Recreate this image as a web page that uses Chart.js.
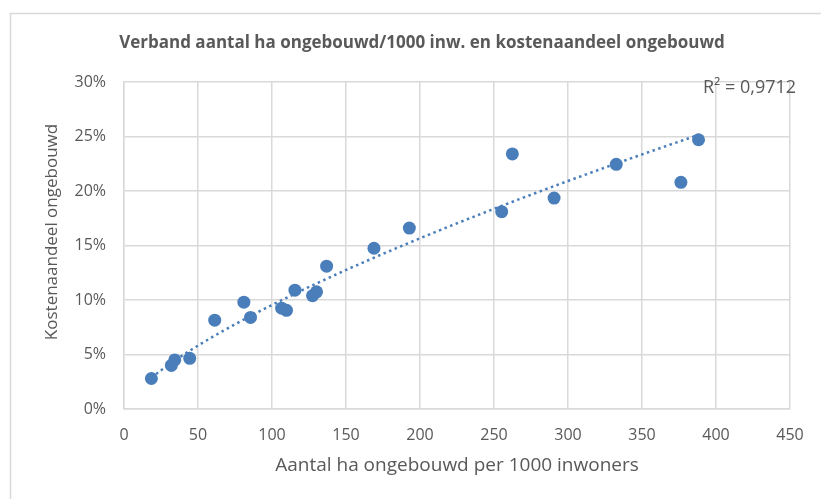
<!DOCTYPE html>
<html>
<head>
<meta charset="utf-8">
<script src="https://cdn.jsdelivr.net/npm/chart.js@4/dist/chart.umd.min.js"></script>
<style>
  body { margin: 0; background: #fff; }
  canvas { display: block; }
</style>
</head>
<body>
<canvas id="grafiek" width="821" height="499"></canvas>
<script>
var titel = 'Verband aantal ha ongebouwd/1000 inw. en kostenaandeel ongebouwd';
var asTitelX = 'Aantal ha ongebouwd per 1000 inwoners';
var asTitelY = 'Kostenaandeel ongebouwd';
var r2Tekst = 'R\u00b2 = 0,9712';

// ha ongebouwd per 1000 inwoners
var haOngebouwd = [18.5, 32, 34.3, 44.4, 61.3, 81, 85.5, 106.5, 109.8, 115.5, 127.4,
                   130.1, 136.9, 168.9, 192.8, 255.2, 262.4, 290.6, 332.6, 376.3, 388.2];
// kostenaandeel ongebouwd (%)
var kostenaandeel = [2.8, 4.0, 4.5, 4.65, 8.15, 9.8, 8.4, 9.25, 9.05, 10.9, 10.4,
                     10.75, 13.1, 14.75, 16.6, 18.1, 23.4, 19.35, 22.45, 20.8, 24.7];
var xTicks = [0, 50, 100, 150, 200, 250, 300, 350, 400, 450];
var yTicks = [0, 5, 10, 15, 20, 25, 30];

var blauw = '#4a7ebb';
var grijs = '#595959';
var lijn = '#d9d9d9';
var font = "'Open Sans', sans-serif";

// machtstrendlijn zoals Excel: ln y = ln a + b ln x
var n = haOngebouwd.length, su = 0, sv = 0, suu = 0, suv = 0;
for (var i = 0; i < n; i++) {
  var u = Math.log(haOngebouwd[i]), v = Math.log(kostenaandeel[i]);
  su += u; sv += v; suu += u * u; suv += u * v;
}
var b = (n * suv - su * sv) / (n * suu - su * su);
var a = Math.exp((sv - b * su) / n);
var xMin = Math.min.apply(null, haOngebouwd), xMax = Math.max.apply(null, haOngebouwd);
var trend = [];
for (var k = 0; k <= 80; k++) {
  var x = xMin + (xMax - xMin) * k / 80;
  trend.push({ x: x, y: a * Math.pow(x, b) });
}

var punten = haOngebouwd.map(function(x, i) { return { x: x, y: kostenaandeel[i] }; });

var tekstPlugin = {
  id: 'teksten',
  beforeDraw: function(chart) {
    var ctx = chart.ctx;
    ctx.save();
    ctx.fillStyle = '#fff';
    ctx.fillRect(0, 0, chart.width, chart.height);
    ctx.strokeStyle = lijn;
    ctx.lineWidth = 1.5;
    ctx.strokeRect(10.5, 13.5, 900, 600);
    ctx.restore();
  },
  afterDraw: function(chart) {
    var ctx = chart.ctx;
    ctx.save();
    ctx.fillStyle = grijs;
    ctx.textAlign = 'center';
    ctx.textBaseline = 'middle';
    ctx.font = "bold 17px " + font;
    ctx.fillText(titel, 422, 43);

    ctx.font = "18px " + font;
    ctx.textAlign = 'left';
    ctx.fillText(r2Tekst, 703, 88);

    ctx.translate(52, 232);
    ctx.rotate(-Math.PI / 2);
    ctx.textAlign = 'center';
    ctx.font = "17px " + font;
    ctx.fillText(asTitelY, 0, 0);
    ctx.restore();
  }
};

var ctx = document.getElementById('grafiek').getContext('2d');
var grafiek = new Chart(ctx, {
  type: 'scatter',
  data: {
    datasets: [{
      label: 'Kostenaandeel',
      data: punten,
      backgroundColor: blauw,
      borderColor: blauw,
      pointRadius: 6.5,
      pointHoverRadius: 6.5,
      borderWidth: 0
    }, {
      label: 'Trend',
      type: 'line',
      data: trend,
      borderColor: blauw,
      borderWidth: 2.5,
      borderDash: [2.5, 3.5],
      pointRadius: 0,
      fill: false,
      tension: 0
    }]
  },
  options: {
    responsive: false,
    animation: false,
    layout: { padding: { left: 30, top: 82, right: 31, bottom: 10 } },
    plugins: {
      legend: { display: false },
      tooltip: { enabled: false }
    },
    scales: {
      x: {
        type: 'linear',
        min: xTicks[0],
        max: xTicks[xTicks.length - 1],
        afterBuildTicks: function(s) { s.ticks = xTicks.map(function(v) { return { value: v }; }); },
        afterFit: function(s) { s.height = 80; },
        grid: { color: lijn, lineWidth: 1.5, drawTicks: false },
        border: { color: lijn, width: 1.5 },
        ticks: { color: grijs, font: { family: font, size: 16 }, padding: 17, maxRotation: 0 },
        title: {
          display: true,
          text: asTitelX,
          color: grijs,
          font: { family: font, size: 19 },
          padding: { top: 0, bottom: 12 }
        }
      },
      y: {
        min: yTicks[0],
        max: yTicks[yTicks.length - 1],
        afterBuildTicks: function(s) { s.ticks = yTicks.map(function(v) { return { value: v }; }); },
        afterFit: function(s) { s.width = 94; },
        grid: { color: lijn, lineWidth: 1.5, drawTicks: false },
        border: { color: lijn, width: 1.5 },
        ticks: {
          color: grijs,
          font: { family: font, size: 16 },
          padding: 18,
          callback: function(v) { return v + '%'; }
        }
      }
    }
  },
  plugins: [tekstPlugin]
});
</script>
</body>
</html>
